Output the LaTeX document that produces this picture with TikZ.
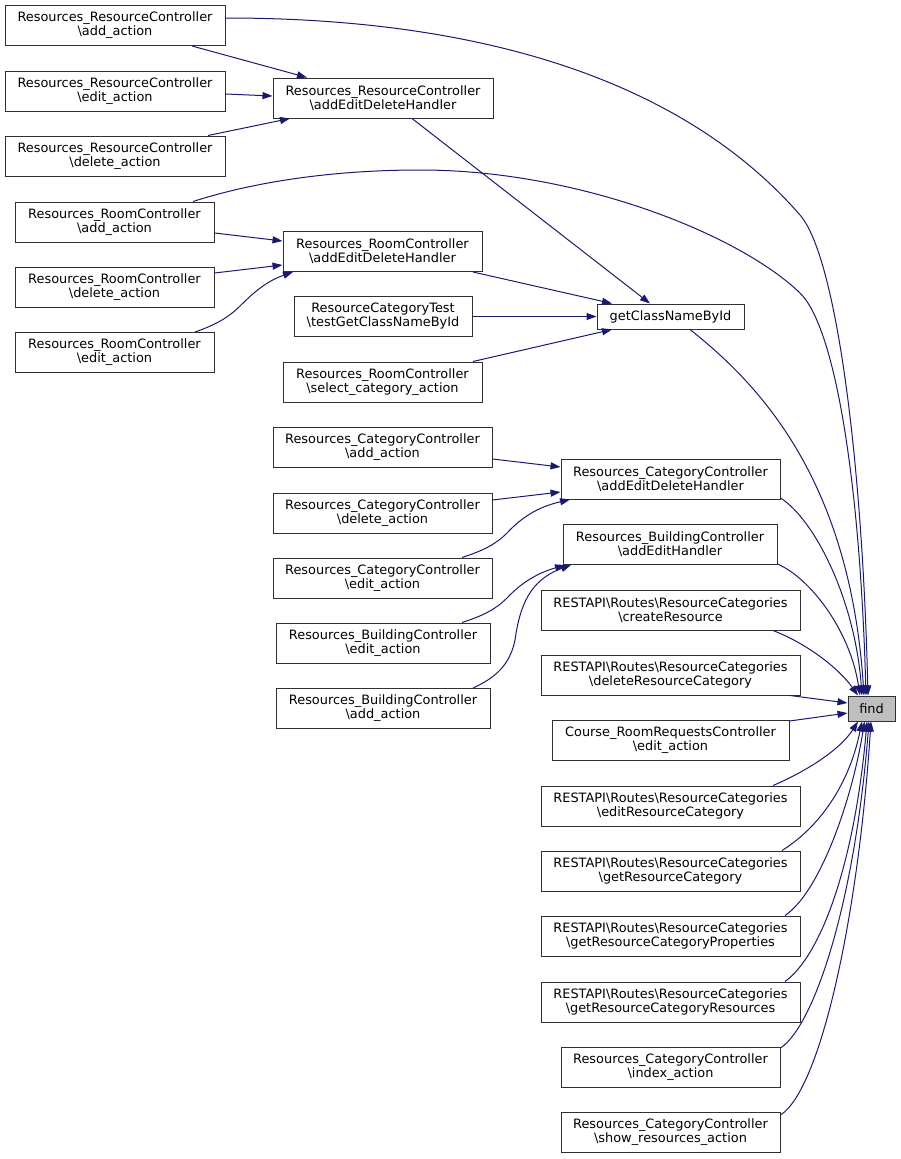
\documentclass[tikz,border=0pt]{standalone}
\usepackage{fontspec}
\setmainfont{DejaVu Sans}
\usetikzlibrary{arrows.meta}
\definecolor{edgec}{HTML}{191970}
\definecolor{boxc}{HTML}{303030}
\definecolor{findc}{HTML}{BFBFBF}
\begin{document}
\begin{tikzpicture}[x=1pt,y=-1pt,
  box/.style={draw=boxc, line width=1pt, fill=white, align=center, inner sep=0pt,
    minimum height=40pt, font=\fontsize{12.9}{14}\selectfont},
  edge/.style={draw=edgec, line width=1pt, -{Triangle[length=10pt,width=7pt]}}]
\useasboundingbox (0,0) rectangle (900,1159);
% nodes
\node[box, minimum width=220pt] (rcadd) at (115,25.5) {Resources\_ResourceController\\\textbackslash add\_action};
\node[box, minimum width=220pt] (rcedit) at (115,91) {Resources\_ResourceController\\\textbackslash edit\_action};
\node[box, minimum width=220pt] (rcdel) at (115,156) {Resources\_ResourceController\\\textbackslash delete\_action};
\node[box, minimum width=220pt] (rcaedh) at (383,98) {Resources\_ResourceController\\\textbackslash addEditDeleteHandler};
\node[box, minimum width=199pt] (roomadd) at (114.5,222) {Resources\_RoomController\\\textbackslash add\_action};
\node[box, minimum width=199pt] (roomdel) at (114.5,287) {Resources\_RoomController\\\textbackslash delete\_action};
\node[box, minimum width=199pt] (roomedit) at (114.5,352.5) {Resources\_RoomController\\\textbackslash edit\_action};
\node[box, minimum width=199pt] (roomaedh) at (382.5,251.5) {Resources\_RoomController\\\textbackslash addEditDeleteHandler};
\node[box, minimum width=178pt] (rctest) at (383,316.5) {ResourceCategoryTest\\\textbackslash testGetClassNameById};
\node[box, minimum width=199pt] (roomsel) at (382.5,382) {Resources\_RoomController\\\textbackslash select\_category\_action};
\node[box, minimum width=147pt, minimum height=25pt] (gcn) at (670.5,316.5) {getClassNameById};
\node[box, minimum width=219pt] (catadd) at (382.5,447) {Resources\_CategoryController\\\textbackslash add\_action};
\node[box, minimum width=219pt] (catdel) at (382.5,513) {Resources\_CategoryController\\\textbackslash delete\_action};
\node[box, minimum width=219pt] (catedit) at (382.5,578) {Resources\_CategoryController\\\textbackslash edit\_action};
\node[box, minimum width=214pt] (bldedit) at (383,643) {Resources\_BuildingController\\\textbackslash edit\_action};
\node[box, minimum width=214pt] (bldadd) at (383,708.5) {Resources\_BuildingController\\\textbackslash add\_action};
\node[box, minimum width=219pt] (cataedh) at (670.5,479) {Resources\_CategoryController\\\textbackslash addEditDeleteHandler};
\node[box, minimum width=214pt] (bldaeh) at (670,544.5) {Resources\_BuildingController\\\textbackslash addEditHandler};
\node[box, minimum width=259pt] (create) at (670.5,610) {RESTAPI\textbackslash Routes\textbackslash ResourceCategories\\\textbackslash createResource};
\node[box, minimum width=259pt] (delrc) at (670.5,675) {RESTAPI\textbackslash Routes\textbackslash ResourceCategories\\\textbackslash deleteResourceCategory};
\node[box, minimum width=47pt, minimum height=25pt, fill=findc] (find) at (871.5,708.5) {find};
\node[box, minimum width=237pt] (course) at (670.5,740) {Course\_RoomRequestsController\\\textbackslash edit\_action};
\node[box, minimum width=259pt] (editrc) at (670.5,806) {RESTAPI\textbackslash Routes\textbackslash ResourceCategories\\\textbackslash editResourceCategory};
\node[box, minimum width=259pt] (getrc) at (670.5,871) {RESTAPI\textbackslash Routes\textbackslash ResourceCategories\\\textbackslash getResourceCategory};
\node[box, minimum width=259pt] (getprops) at (670.5,936) {RESTAPI\textbackslash Routes\textbackslash ResourceCategories\\\textbackslash getResourceCategoryProperties};
\node[box, minimum width=259pt] (getres) at (670.5,1002) {RESTAPI\textbackslash Routes\textbackslash ResourceCategories\\\textbackslash getResourceCategoryResources};
\node[box, minimum width=219pt] (catindex) at (670.5,1067) {Resources\_CategoryController\\\textbackslash index\_action};
\node[box, minimum width=219pt] (catshow) at (670.5,1132) {Resources\_CategoryController\\\textbackslash show\_resources\_action};

% edges into handlers
\draw[edge] (rcadd.south -| 192,0) -- (rcaedh.north -| 307,0);
\draw[edge] (rcedit.east |- 0,94) -- (rcaedh.west |- 0,96);
\draw[edge] (rcdel.north -| 208,0) -- (rcaedh.south -| 290,0);
\draw[edge] (rcaedh.south -| 412,0) -- (gcn.north -| 650,0);
\draw[edge] (roomadd.east |- 0,233) -- (roomaedh.west |- 0,241);
\draw[edge] (roomdel.east |- 0,273) -- (roomaedh.west |- 0,265);
\draw[edge] (roomedit.north -| 195,0) .. controls (215,325) and (228,318) .. (240,306) .. controls (258,288) and (270,280) .. (roomaedh.south -| 293,0);
\draw[edge] (roomaedh.south -| 473,0) -- (gcn.north -| 612,0);
\draw[edge] (rctest.east) -- (gcn.west);
\draw[edge] (roomsel.north -| 473,0) -- (gcn.south -| 612,0);
\draw[edge] (catadd.east |- 0,459) -- (cataedh.west |- 0,467);
\draw[edge] (catdel.east |- 0,500) -- (cataedh.west |- 0,492);
\draw[edge] (catedit.north -| 462,0) .. controls (482,551) and (495,545) .. (507,533) .. controls (522,517) and (538,507) .. (cataedh.south -| 570,0);
\draw[edge] (bldedit.north -| 462,0) .. controls (482,616) and (495,610) .. (507,598) .. controls (522,582) and (538,573) .. (bldaeh.south -| 565,0);
\draw[edge] (bldadd.north -| 473,0) .. controls (495,678) and (510,665) .. (515,640) .. controls (520,605) and (530,580) .. (bldaeh.south -| 571,0);

% edges into find (from above)
\draw[edge] (rcadd.east |- 0,18) .. controls (520,18) and (700,100) .. (800,215) .. controls (835,255) and (862,450) .. ([xshift=-3.5pt]find.north);
\draw[edge] (roomadd.north -| 193,0) .. controls (260,180) and (340,170) .. (420,170) .. controls (580,170) and (740,235) .. (800,293) .. controls (835,327) and (860,480) .. ([xshift=-5.5pt]find.north);
\draw[edge] (gcn.south -| 690,0) .. controls (760,385) and (850,480) .. ([xshift=-7.5pt]find.north);
\draw[edge] (cataedh.east |- 0,498) .. controls (815,520) and (855,600) .. ([xshift=-9.5pt]find.north);
\draw[edge] (bldaeh.east |- 0,564) .. controls (810,578) and (850,630) .. ([xshift=-11.5pt]find.north);
\draw[edge] (create.south -| 773,0) .. controls (810,645) and (840,670) .. ([xshift=-13.5pt]find.north);
\draw[edge] (delrc.south -| 790,0) -- (find.west |- 0,703);
\draw[edge] (course.east |- 0,721) -- (find.west |- 0,713);
% edges into find (from below)
\draw[edge] (editrc.north -| 773,0) .. controls (805,772) and (840,750) .. ([xshift=-13.5pt]find.south);
\draw[edge] (getrc.north -| 782,0) .. controls (815,830) and (848,790) .. ([xshift=-9.5pt]find.south);
\draw[edge] (getprops.north -| 785,0) .. controls (820,892) and (852,800) .. ([xshift=-7pt]find.south);
\draw[edge] (getres.north -| 785,0) .. controls (822,955) and (855,860) .. ([xshift=-4.5pt]find.south);
\draw[edge] (catindex.east |- 0,1048) .. controls (815,1025) and (855,900) .. ([xshift=-2.5pt]find.south);
\draw[edge] (catshow.east |- 0,1115) .. controls (820,1090) and (858,920) .. ([xshift=-0.5pt]find.south);
\end{tikzpicture}
\end{document}
